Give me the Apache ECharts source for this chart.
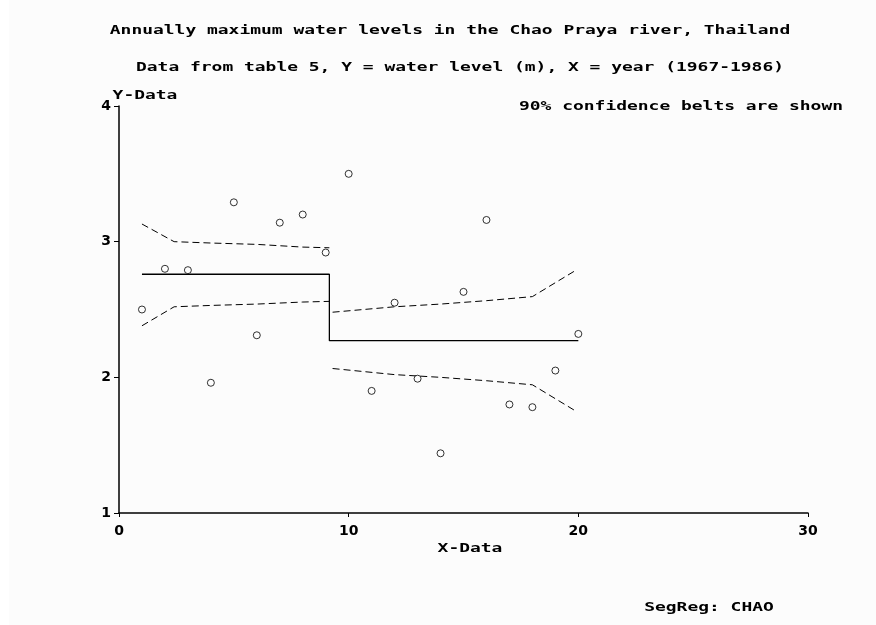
<!DOCTYPE html>
<html>
<head>
<meta charset="utf-8">
<script src="https://cdn.jsdelivr.net/npm/echarts@6/dist/echarts.min.js"></script>
<style>html,body{margin:0;padding:0;background:#fcfcfc;}#c{width:876px;height:625px;}</style>
</head>
<body>
<div id="c"></div>
<script>
// ---- data ----
var years = [1,2,3,4,5,6,7,8,9,10,11,12,13,14,15,16,17,18,19,20];
var waterLevel = [2.50,2.80,2.79,1.96,3.29,2.31,3.14,3.20,2.92,3.50,1.90,2.55,1.99,1.44,2.63,3.16,1.80,1.78,2.05,2.32];
var stepX = [1, 9.16, 20];          // start, breakpoint, end
var stepY = [2.76, 2.27];            // mean level before / after breakpoint
var beltLeftX = [1, 2.4, 4, 6, 8, 9.16];
var beltLeftUpper = [3.13, 3.00, 2.99, 2.98, 2.96, 2.955];
var beltLeftLower = [2.38, 2.52, 2.53, 2.54, 2.555, 2.56];
var beltRightX = [9.3, 12, 14, 16, 18, 19.9];
var beltRightUpper = [2.48, 2.52, 2.54, 2.565, 2.595, 2.79];
var beltRightLower = [2.065, 2.02, 2.00, 1.975, 1.945, 1.75];
var xTicks = {min: 0, max: 30, interval: 10};
var yTicks = {min: 1, max: 4, interval: 1};
var titleText = 'Annually maximum water levels in the Chao Praya river, Thailand';
var subtitleText = 'Data from table 5, Y = water level (m), X = year (1967-1986)';
var noteText = '90% confidence belts are shown';
var xName = 'X-Data', yName = 'Y-Data', footer = 'SegReg: CHAO';

function zip(xs, ys){ return xs.map(function(x,i){ return [x, ys[i]]; }); }

var chart = echarts.init(document.getElementById('c'), null, {renderer:'canvas'});
var FONT = 'bold 13px "DejaVu Sans Mono", monospace';
var SX = 1.38;
function txt(s, x, y, align){
  return {type:'text', x:x, y:y, scaleX:SX, scaleY:1,
    style:{text:s, font:FONT, fill:'#000', align:align||'center', verticalAlign:'middle'}};
}
var dash = {type:[7,4], width:1, color:'#000'};
var stepData = [[stepX[0],stepY[0]],[stepX[1],stepY[0]],[stepX[1],stepY[1]],[stepX[2],stepY[1]]];

chart.setOption({
  backgroundColor:'#fcfcfc',
  animation:false,
  grid:{left:119, right:68, top:106, bottom:112},
  xAxis:{type:'value', min:xTicks.min, max:xTicks.max, interval:xTicks.interval,
    axisLine:{show:true, onZero:false, lineStyle:{color:'#000', width:1.5}},
    axisTick:{show:true, length:4, lineStyle:{color:'#000'}},
    splitLine:{show:false},
    axisLabel:{color:'#000', fontFamily:'DejaVu Sans', fontWeight:'bold', fontSize:14, margin:11}},
  yAxis:{type:'value', min:yTicks.min, max:yTicks.max, interval:yTicks.interval,
    axisLine:{show:true, onZero:false, lineStyle:{color:'#000', width:1.5}},
    axisTick:{show:true, length:5, lineStyle:{color:'#000'}},
    splitLine:{show:false},
    axisLabel:{color:'#000', fontFamily:'DejaVu Sans', fontWeight:'bold', fontSize:14, margin:8}},
  graphic:[
    {type:'rect', shape:{x:0,y:0,width:9,height:625}, style:{fill:'#fff'}, z:-10},
    txt(titleText, 450, 31),
    txt(subtitleText, 460, 68),
    txt(yName, 145, 96),
    txt(noteText, 681, 107),
    txt(xName, 470, 549),
    txt(footer, 709, 608)
  ],
  series:[
    {type:'line', data:stepData, symbol:'none', lineStyle:{color:'#000', width:1.3}, z:2},
    {type:'line', data:zip(beltLeftX, beltLeftUpper), symbol:'none', lineStyle:dash},
    {type:'line', data:zip(beltLeftX, beltLeftLower), symbol:'none', lineStyle:dash},
    {type:'line', data:zip(beltRightX, beltRightUpper), symbol:'none', lineStyle:dash},
    {type:'line', data:zip(beltRightX, beltRightLower), symbol:'none', lineStyle:dash},
    {type:'scatter', data:zip(years, waterLevel), symbol:'circle', symbolSize:7,
      itemStyle:{color:'#fcfcfc', borderColor:'#000', borderWidth:1}, z:5}
  ]
});
</script>
</body>
</html>
